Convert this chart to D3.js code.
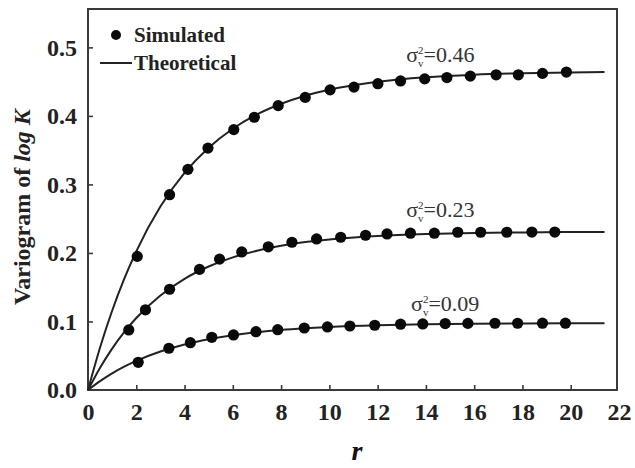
<!DOCTYPE html>
<html lang="en">
  <head>
    <meta charset="UTF-8" />
    <title>Variogram of log K</title>
    <style>
      body { margin: 0; background: #fff; }
      svg { display: block; font-family: "Liberation Serif", "Times New Roman", serif; }
    </style>
  </head>
  <body>
    <div class="chart"></div>
    <script src="https://d3js.org/d3.v7.min.js"></script>
    <script>
      // x ticks / y ticks
      const xTicks = [0, 2, 4, 6, 8, 10, 12, 14, 16, 18, 20, 22];
      const yTicks = [0, 0.1, 0.2, 0.3, 0.4, 0.5];

      // simulated points (r, value) for each variance
      const simR46 = [2.04, 3.38, 4.14, 4.97, 6.04, 6.89, 7.88, 9.0, 10.03, 11.02, 12.01, 12.95, 13.95, 14.87, 15.84, 16.91, 17.83, 18.83, 19.82];
      const simV46 = [0.195, 0.285, 0.322, 0.353, 0.38, 0.398, 0.415, 0.427, 0.438, 0.442, 0.447, 0.451, 0.454, 0.456, 0.458, 0.46, 0.46, 0.462, 0.464];

      const simR23 = [1.69, 2.38, 3.38, 4.62, 5.45, 6.37, 7.47, 8.45, 9.47, 10.47, 11.5, 12.39, 13.36, 14.35, 15.32, 16.27, 17.35, 18.39, 19.34];
      const simV23 = [0.0876, 0.117, 0.147, 0.176, 0.191, 0.2015, 0.209, 0.2156, 0.2204, 0.2229, 0.2258, 0.2277, 0.2288, 0.2288, 0.2302, 0.2302, 0.2302, 0.2305, 0.2305];

      const simR09 = [2.08, 3.35, 4.24, 5.13, 6.03, 6.96, 7.86, 8.96, 9.92, 10.85, 11.88, 12.95, 13.87, 14.8, 15.74, 16.86, 17.8, 18.83, 19.78];
      const simV09 = [0.0404, 0.0609, 0.069, 0.0769, 0.0803, 0.0851, 0.088, 0.0905, 0.092, 0.0934, 0.0945, 0.096, 0.0964, 0.097, 0.0972, 0.0974, 0.0974, 0.0975, 0.0975];

      // theoretical curves read at these r
      const theoR = [0, 0.5, 1, 1.5, 2, 3, 4, 5, 6, 7, 8, 9, 10, 12, 14, 16, 18, 20, 21.4];
      const theo46 = [0, 0.062, 0.1156, 0.162, 0.2024, 0.2677, 0.3167, 0.3535, 0.3812, 0.4021, 0.4177, 0.4295, 0.4383, 0.4499, 0.4565, 0.4602, 0.4623, 0.4635, 0.464];
      const theo23 = [0, 0.0325, 0.0604, 0.0844, 0.105, 0.1379, 0.1623, 0.1802, 0.1935, 0.2033, 0.2105, 0.2159, 0.2198, 0.2249, 0.2277, 0.2292, 0.23, 0.2305, 0.2307];
      const theo09 = [0, 0.013, 0.0243, 0.034, 0.0425, 0.0562, 0.0665, 0.0742, 0.08, 0.0844, 0.0877, 0.0901, 0.092, 0.0944, 0.0958, 0.0966, 0.097, 0.0973, 0.0974];

      // curve labels
      const labelNames = ["0.46", "0.23", "0.09"];
      const labelR = [14.6, 14.6, 14.8];
      const labelV = [0.479, 0.253, 0.115];

      const width = 635;
      const height = 468;

      const svg = d3
        .select(".chart")
        .append("svg")
        .attr("width", width)
        .attr("height", height);

      const x = d3.scaleLinear().domain([0, 22]).range([88, 619]);
      const y = d3.scaleLinear().domain([0, 0.556]).range([390, 9]);

      // frame
      svg
        .append("rect")
        .attr("x", 88)
        .attr("y", 9)
        .attr("width", 617 - 88)
        .attr("height", 390 - 9)
        .attr("fill", "none")
        .attr("stroke", "#3a3a3a")
        .attr("stroke-width", 2);

      // axes
      const xAxis = svg
        .append("g")
        .attr("transform", "translate(0,390)")
        .call(
          d3.axisBottom(x)
            .tickValues(xTicks)
            .tickFormat(d3.format("d"))
            .tickSizeInner(-5)
            .tickSizeOuter(0)
            .tickPadding(13)
        );

      const yAxis = svg
        .append("g")
        .attr("transform", "translate(88,0)")
        .call(
          d3.axisLeft(y)
            .tickValues(yTicks)
            .tickFormat(d3.format(".1f"))
            .tickSizeInner(-5)
            .tickSizeOuter(0)
            .tickPadding(11)
        );

      [xAxis, yAxis].forEach((g) => {
        g.select(".domain").remove();
        g.selectAll(".tick line").attr("stroke", "#3a3a3a").attr("stroke-width", 1.6);
        g.selectAll(".tick text")
          .attr("fill", "#222")
          .style("font-size", "24px")
          .style("font-weight", "bold")
          .style("font-family", "'Liberation Serif', serif");
      });
      xAxis.selectAll(".tick").filter((d) => d === 0 || d === 22).select("line").remove();
      yAxis.selectAll(".tick").filter((d) => d === 0).select("line").remove();

      // axis titles
      svg
        .append("text")
        .attr("transform", "translate(30,207) rotate(-90)")
        .attr("text-anchor", "middle")
        .attr("fill", "#222")
        .style("font-size", "24px")
        .style("font-weight", "bold")
        .html('Variogram of <tspan font-style="italic">log K</tspan>');

      svg
        .append("text")
        .attr("x", 357)
        .attr("y", 460)
        .attr("text-anchor", "middle")
        .attr("fill", "#111")
        .style("font-size", "28px")
        .style("font-weight", "bold")
        .style("font-style", "italic")
        .text("r");

      // theoretical lines
      const line = d3
        .line()
        .x((d) => x(d[0]))
        .y((d) => y(d[1]))
        .curve(d3.curveMonotoneX);

      [theo46, theo23, theo09].forEach((vals) => {
        svg
          .append("path")
          .datum(theoR.map((r, i) => [r, vals[i]]))
          .attr("d", line)
          .attr("fill", "none")
          .attr("stroke", "#222")
          .attr("stroke-width", 2);
      });

      // simulated dots
      [
        [simR46, simV46],
        [simR23, simV23],
        [simR09, simV09],
      ].forEach(([rs, vs]) => {
        svg
          .append("g")
          .selectAll("circle")
          .data(rs.map((r, i) => [r, vs[i]]))
          .join("circle")
          .attr("cx", (d) => x(d[0]))
          .attr("cy", (d) => y(d[1]))
          .attr("r", 5.6)
          .attr("fill", "#0a0a0a");
      });

      // sigma labels
      labelNames.forEach((name, i) => {
        const t = svg
          .append("text")
          .attr("x", x(labelR[i]))
          .attr("y", y(labelV[i]))
          .attr("text-anchor", "middle")
          .attr("fill", "#333")
          .style("font-size", "22px");
        t.append("tspan").text("σ");
        t.append("tspan").attr("dy", -8).style("font-size", "11px").text("2");
        t.append("tspan").attr("dx", -5.5).attr("dy", 13).style("font-size", "11px").text("v");
        t.append("tspan").attr("dy", -5).text("=" + name);
      });

      // legend
      const legend = svg.append("g").style("font-size", "21px").style("font-weight", "bold");
      legend.append("circle").attr("cx", 116).attr("cy", 35).attr("r", 5).attr("fill", "#0a0a0a");
      legend.append("text").attr("x", 134).attr("y", 42).attr("fill", "#222").text("Simulated");
      legend
        .append("line")
        .attr("x1", 100)
        .attr("x2", 132)
        .attr("y1", 63)
        .attr("y2", 63)
        .attr("stroke", "#222")
        .attr("stroke-width", 2);
      legend.append("text").attr("x", 134).attr("y", 70).attr("fill", "#222").text("Theoretical");
    </script>
  </body>
</html>
